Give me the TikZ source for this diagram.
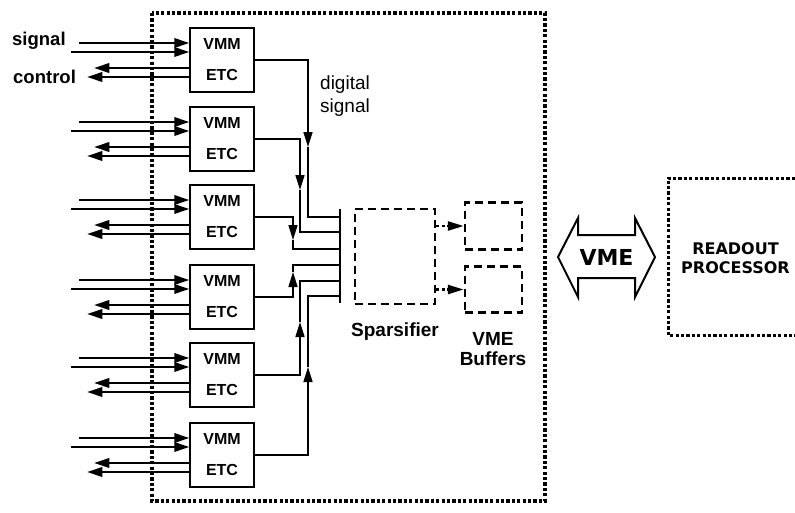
\documentclass[tikz,border=0pt]{standalone}
\usepackage{fontspec}
\setmainfont{Liberation Sans}
\newfontfamily\dvfont{DejaVu Sans}
\usetikzlibrary{arrows.meta,calc}
\begin{document}
\begin{tikzpicture}[x=1pt,y=-1pt,
  unit/.style={draw,line width=1.5pt,minimum width=64pt,minimum height=64pt,inner sep=0pt,align=center,font=\bfseries\fontsize{16}{31}\selectfont},
  io/.style={line width=2pt,-{Triangle[length=15pt,width=9.5pt]}},
  dig/.style={line width=1.6pt},
  diga/.style={line width=1.6pt,-{Triangle[length=15pt,width=9pt]}},
  frame/.style={line width=3.3pt,dash pattern=on 3.2pt off 2.2pt},
  dbox/.style={draw,line width=2.5pt,dash pattern=on 8pt off 5pt,inner sep=0pt},
  darr/.style={line width=2.5pt,dash pattern=on 3pt off 2.5pt,-{Triangle[length=16pt,width=9pt]}},
  lbl/.style={font=\bfseries\fontsize{18.5}{22}\selectfont,inner sep=0pt}
]
\useasboundingbox (0,0) rectangle (795,512);

% outer frame
\draw[frame] (152,13) rectangle (545,501);

% VMM/ETC units
\foreach \i/\y in {1/60,2/139,3/217,4/297,5/375,6/455}
  \node[unit] (b\i) at (222,\y) {VMM\\ETC};

% signal / control lines
\foreach \i in {1,...,6} {
  \coordinate (ia\i) at ([xshift=-110pt,yshift=17pt]b\i.west);
  \coordinate (ib\i) at ([xshift=-118pt,yshift=8pt]b\i.west);
  \coordinate (oa\i) at ([xshift=-95pt,yshift=-8pt]b\i.west);
  \coordinate (ob\i) at ([xshift=-102pt,yshift=-17pt]b\i.west);
  \draw[io] (ia\i) -- (ia\i -| b\i.west);
  \draw[io] (ib\i) -- (ib\i -| b\i.west);
  \draw[io] (oa\i -| b\i.west) -- (oa\i);
  \draw[io] (ob\i -| b\i.west) -- (ob\i);
}

\node[lbl,anchor=base west] (sigl) at (12,45) {signal};
\node[lbl,anchor=base west] (ctll) at (13,83) {control};

% bus
\coordinate (busT) at (340,209);
\coordinate (busB) at (340,303);
\draw[line width=2.8pt] (busT) -- (busB);

% digital signal connectors
\foreach \i/\ax/\ay/\jy in {1/308/147/217, 2/300/190/232, 3/293/240/249, 4/293/272/265, 5/300/322/281, 6/308/367/296} {
  \coordinate (a\i) at (\ax,\ay);
  \coordinate (j\i) at (340,\jy);
  \draw[diga] (b\i.east) -| (a\i);
  \draw[dig] (a\i) |- (j\i);
}

\node[font=\fontsize{19}{22.5}\selectfont,align=left,anchor=north west,inner sep=0pt] (dsl) at (320,76) {digital\\signal};

% sparsifier and buffers
\node[dbox,minimum width=80pt,minimum height=95pt] (sp) at (395,256.5) {};
\node[dbox,minimum width=57pt,minimum height=47pt] (bf1) at (493.5,226) {};
\node[dbox,minimum width=57pt,minimum height=46pt] (bf2) at (493.5,289.5) {};
\draw[darr] (sp.east |- bf1.west) -- (bf1.west);
\draw[darr] (sp.east |- bf2.west) -- (bf2.west);

\node[lbl,font=\bfseries\fontsize{19}{22}\selectfont,anchor=base] (spl) at (395,336) {Sparsifier};
\node[lbl,font=\bfseries\fontsize{19}{20.5}\selectfont,align=center,anchor=north] (vbl) at (493,332) {VME\\Buffers};

% VME double arrow
\draw[line width=2pt,line join=miter] (558,257) -- (578,218) -- (578,235) -- (635,235) -- (635,218) -- (655,257) -- (635,297) -- (635,278) -- (578,278) -- (578,297) -- cycle;
\node[font=\dvfont\bfseries\fontsize{22}{22}\selectfont,inner sep=0pt] (vme) at (606.5,257) {VME};

% readout processor
\draw[frame,line width=3pt] (795,178) -| (668,335) -- (795,335);
\node[font=\dvfont\bfseries\fontsize{16}{19}\selectfont,align=center,inner sep=0pt] (rp) at (735.5,258.5) {READOUT\\PROCESSOR};
\end{tikzpicture}
\end{document}
